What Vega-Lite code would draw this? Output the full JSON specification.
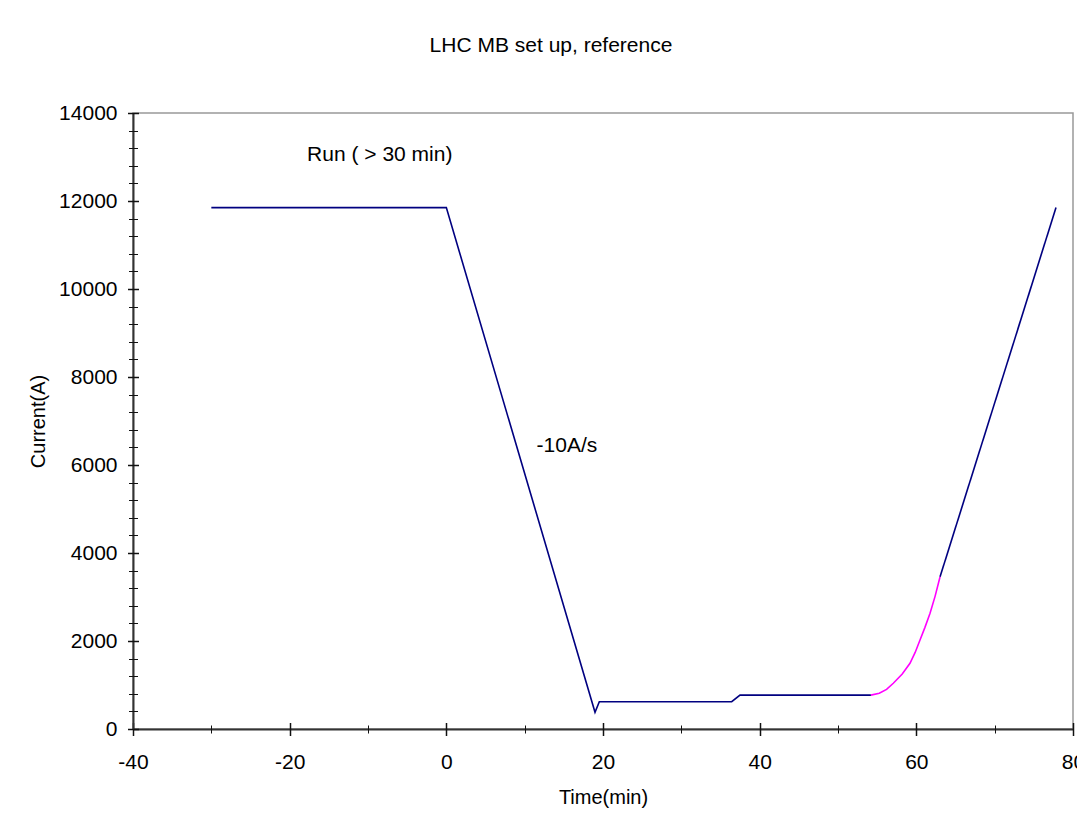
{
  "$schema": "https://vega.github.io/schema/vega-lite/v6.json",
  "width": 940,
  "height": 616,
  "autosize": {"type": "none"},
  "padding": {"left": 133, "top": 113, "right": 4, "bottom": 91},
  "background": "white",
  "title": {
    "text": "LHC MB set up, reference",
    "font": "Liberation Sans",
    "fontSize": 21,
    "fontWeight": "normal",
    "color": "#000",
    "anchor": "middle",
    "frame": "group",
    "dx": -52,
    "offset": 46
  },
  "config": {
    "font": "Liberation Sans",
    "view": {"stroke": "#999", "strokeWidth": 1.5},
    "axis": {
      "grid": false,
      "labelFont": "Liberation Sans",
      "titleFont": "Liberation Sans",
      "labelFontSize": 21,
      "titleFontSize": 20,
      "titleFontWeight": "normal",
      "labelColor": "#000",
      "titleColor": "#000",
      "tickColor": "#111",
      "domainColor": "#333",
      "labelFlush": false,
      "labelOverlap": false
    }
  },
  "datasets": {
    "line": [
      {"t": -30, "I": 11850, "seg": "a"},
      {"t": 0, "I": 11850, "seg": "a"},
      {"t": 18.98, "I": 380, "seg": "a"},
      {"t": 19.53, "I": 620, "seg": "a"},
      {"t": 36.43, "I": 620, "seg": "a"},
      {"t": 37.49, "I": 770, "seg": "a"},
      {"t": 54.2, "I": 770, "seg": "a"},
      {"t": 54.2, "I": 770, "seg": "b"},
      {"t": 55.27, "I": 811, "seg": "b"},
      {"t": 56.2, "I": 900, "seg": "b"},
      {"t": 57.06, "I": 1039, "seg": "b"},
      {"t": 58.2, "I": 1250, "seg": "b"},
      {"t": 59.19, "I": 1493, "seg": "b"},
      {"t": 59.85, "I": 1740, "seg": "b"},
      {"t": 60.47, "I": 2023, "seg": "b"},
      {"t": 61.1, "I": 2310, "seg": "b"},
      {"t": 61.75, "I": 2629, "seg": "b"},
      {"t": 62.4, "I": 3020, "seg": "b"},
      {"t": 63.03, "I": 3461, "seg": "b"},
      {"t": 63.03, "I": 3461, "seg": "c"},
      {"t": 77.83, "I": 11850, "seg": "c"}
    ],
    "notes": [
      {"t": -8.5, "I": 12900, "label": "Run ( > 30 min)"},
      {"t": 15.4, "I": 6300, "label": "-10A/s"}
    ]
  },
  "resolve": {"axis": {"x": "independent", "y": "independent"}},
  "layer": [
    {
      "data": {"name": "line"},
      "mark": {"type": "line", "strokeWidth": 1.6, "interpolate": "linear"},
      "encoding": {
        "x": {
          "field": "t", "type": "quantitative",
          "scale": {"domain": [-40, 80], "nice": false, "zero": false},
          "axis": {
            "orient": "bottom",
            "values": [-40, -20, 0, 20, 40, 60, 80],
            "labelExpr": "'' + datum.value",
            "ticks": false, "tickSize": 0,
            "labelPadding": 22,
            "domainWidth": 2,
            "title": "Time(min)",
            "titlePadding": 15
          }
        },
        "y": {
          "field": "I", "type": "quantitative",
          "scale": {"domain": [0, 14000], "nice": false},
          "axis": {
            "orient": "left",
            "values": [0, 2000, 4000, 6000, 8000, 10000, 12000, 14000],
            "labelExpr": "'' + datum.value",
            "ticks": false, "tickSize": 0,
            "labelPadding": 16,
            "domainWidth": 2,
            "title": "Current(A)",
            "titlePadding": 10
          }
        },
        "color": {
          "field": "seg", "type": "nominal",
          "scale": {"domain": ["a", "b", "c"], "range": ["#000080", "#ff00ff", "#000080"]},
          "legend": null
        }
      }
    },
    {
      "data": {"name": "line"},
      "mark": {"type": "line", "opacity": 0},
      "encoding": {
        "x": {
          "field": "t", "type": "quantitative",
          "axis": {
            "orient": "bottom",
            "values": [-40, -20, 0, 20, 40, 60, 80],
            "domain": false, "labels": false, "title": null,
            "ticks": true, "tickSize": 13, "tickWidth": 1.5, "offset": -6.5
          }
        },
        "y": {
          "field": "I", "type": "quantitative",
          "axis": {
            "orient": "left",
            "values": [0, 2000, 4000, 6000, 8000, 10000, 12000, 14000],
            "domain": false, "labels": false, "title": null,
            "ticks": true, "tickSize": 11, "tickWidth": 1.5, "offset": -5.5
          }
        }
      }
    },
    {
      "data": {"name": "notes"},
      "mark": {"type": "text", "font": "Liberation Sans", "fontSize": 21, "color": "#000", "align": "center", "baseline": "alphabetic"},
      "encoding": {
        "x": {
          "field": "t", "type": "quantitative",
          "axis": {
            "orient": "bottom",
            "values": [-30, -10, 10, 30, 50, 70],
            "domain": false, "labels": false, "title": null,
            "ticks": true, "tickSize": 8, "tickWidth": 1, "offset": -4
          }
        },
        "y": {
          "field": "I", "type": "quantitative",
          "axis": {
            "orient": "left",
            "values": [400, 800, 1200, 1600, 2400, 2800, 3200, 3600, 4400, 4800, 5200, 5600, 6400, 6800, 7200, 7600, 8400, 8800, 9200, 9600, 10400, 10800, 11200, 11600, 12400, 12800, 13200, 13600],
            "domain": false, "labels": false, "title": null,
            "ticks": true, "tickSize": 9, "tickWidth": 1, "offset": -4.5
          }
        },
        "text": {"field": "label", "type": "nominal"}
      }
    }
  ]
}
